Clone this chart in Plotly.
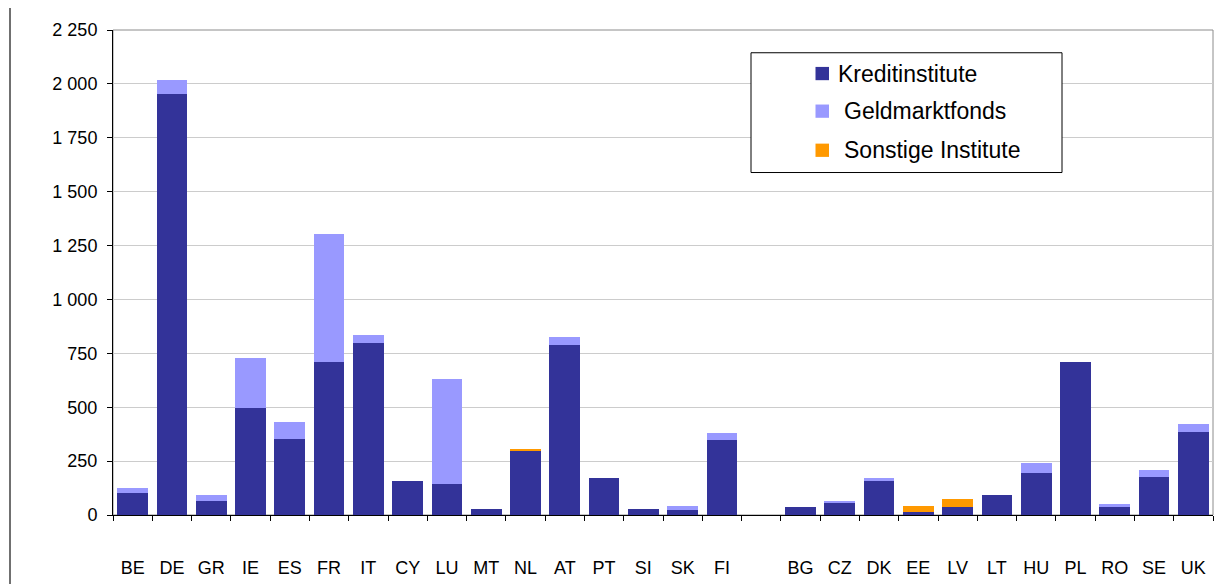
import plotly.graph_objects as go

# ---- data ----
countries = ["BE", "DE", "GR", "IE", "ES", "FR", "IT", "CY", "LU", "MT", "NL", "AT", "PT", "SI", "SK", "FI",
             " ",
             "BG", "CZ", "DK", "EE", "LV", "LT", "HU", "PL", "RO", "SE", "UK"]
kreditinstitute = [104, 1953, 64, 498, 354, 709, 798, 156, 144, 28, 295, 788, 173, 28, 23, 346,
                   None,
                   35, 55, 159, 15, 38, 92, 193, 712, 38, 176, 386]
geldmarktfonds = [20, 65, 28, 229, 76, 593, 35, 0, 487, 0, 0, 37, 0, 0, 20, 35,
                  None,
                  0, 12, 14, 0, 0, 0, 50, 0, 13, 35, 35]
sonstige = [0, 0, 0, 0, 0, 0, 0, 0, 0, 0, 12, 0, 0, 0, 0, 0,
            None,
            0, 0, 0, 26, 37, 0, 0, 0, 0, 0, 0]
series_names = ["Kreditinstitute", " Geldmarktfonds", " Sonstige Institute"]
colors = ["#333399", "#9999FF", "#FF9900"]
y_ticks = [0, 250, 500, 750, 1000, 1250, 1500, 1750, 2000, 2250]

FONT = "Liberation Sans, Arial, sans-serif"

fig = go.Figure()
for name, vals, col in zip(series_names, [kreditinstitute, geldmarktfonds, sonstige], colors):
    fig.add_trace(go.Bar(x=countries, y=vals, name=name.strip(), marker=dict(color=col, line=dict(width=0)),
                         showlegend=False))

# page offset (body margin) and plot area geometry in page pixels
OFF = 8
L, R, T, B = 113, 1213, 25, 515
W, H = R - L, B - T
def px(x):
    return (x - L) / W
def py(y):
    return (B - y) / H

shapes = []
# plot area border (gray)
shapes.append(dict(type="rect", xref="paper", yref="paper", x0=0, x1=1, y0=0, y1=1,
                   line=dict(color="#8c8c8c", width=1), layer="below"))
# outer chart border on the left
shapes.append(dict(type="line", xref="paper", yref="paper", x0=px(10), x1=px(10), y0=py(600), y1=py(-10),
                   line=dict(color="#404040", width=1.5)))
# legend box
shapes.append(dict(type="rect", xref="paper", yref="paper", x0=px(751), x1=px(1062), y0=py(169), y1=py(48),
                   line=dict(color="#000000", width=1), fillcolor="white", layer="above"))
annotations = []
rows_y = [69, 107, 146.5]
text_x = [836, 842, 842]
for name, col, ry, tx in zip(series_names, colors, rows_y, text_x):
    shapes.append(dict(type="rect", xref="paper", yref="paper", x0=px(815.5), x1=px(829), y0=py(ry + 6.7), y1=py(ry - 6.7),
                       line=dict(width=0), fillcolor=col, layer="above"))
    annotations.append(dict(xref="paper", yref="paper", x=px(tx), y=py(ry), text=name.strip(), showarrow=False,
                            xanchor="left", yanchor="middle", font=dict(family=FONT, size=23, color="black")))

fig.update_layout(
    width=1224, height=584,
    margin=dict(l=L - OFF, r=1224 - R + OFF, t=T - OFF, b=584 - B + OFF, pad=0),
    paper_bgcolor="white", plot_bgcolor="white",
    barmode="stack", bargap=0.22,
    separators=". ",
    font=dict(family=FONT, size=18, color="black"),
    shapes=shapes, annotations=annotations,
    showlegend=False,
)
fig.update_xaxes(type="category", categoryorder="array", categoryarray=countries,
                 tickson="boundaries", ticks="outside", ticklen=5, tickcolor="black", tickwidth=1,
                 showline=True, linecolor="black", linewidth=1, showgrid=False,
                 ticklabelstandoff=36, tickfont=dict(size=18, family=FONT))
fig.update_yaxes(range=[0, 2250], tickvals=y_ticks, tickformat=",d", separatethousands=True,
                 ticks="outside", ticklen=5, tickcolor="black", tickwidth=1,
                 showline=True, linecolor="black", linewidth=1,
                 showgrid=True, gridcolor="#cccccc", gridwidth=1, zeroline=False,
                 ticklabelstandoff=6, tickfont=dict(size=18, family=FONT))

fig.write_html("out.html")
